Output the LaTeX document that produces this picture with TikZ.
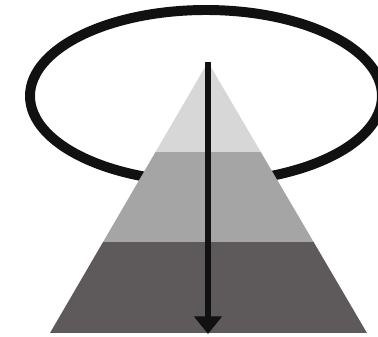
\documentclass[tikz,border=0pt]{standalone}
\usetikzlibrary{arrows.meta, calc}
\definecolor{pTop}{HTML}{D7D7D7}
\definecolor{pMid}{HTML}{A5A5A5}
\definecolor{pLow}{HTML}{5E5A5B}
\definecolor{pInk}{HTML}{111111}
\begin{document}
\begin{tikzpicture}[x=0.03cm, y=-0.03cm,
      ring/.style={draw=pInk, line width=8.5pt},
      layer/.style={draw=none},
      axis/.style={draw=pInk, line width=5.6pt, -{Triangle[length=15pt, width=23pt]}}]
    \useasboundingbox (0,0) rectangle (378,337);
    \clip (0,0) rectangle (378,337);
    % ring behind the pyramid
    \draw[ring] (206,96) ellipse [x radius=176, y radius=86];
    \coordinate (apex) at (208,62);
    \coordinate (baseL) at (50,333);
    \coordinate (baseR) at (367,333);
    \coordinate (bottom) at (208,334);
    \coordinate (aL) at ($(apex)!0.332!(baseL)$);
    \coordinate (aR) at ($(apex)!0.332!(baseR)$);
    \coordinate (bL) at ($(apex)!0.664!(baseL)$);
    \coordinate (bR) at ($(apex)!0.664!(baseR)$);
    \fill[layer, pLow] (bL) -- (bR) -- (baseR) -- (baseL) -- cycle;
    \fill[layer, pMid] (aL) -- (aR) -- (bR) -- (bL) -- cycle;
    \fill[layer, pTop] (apex) -- (aR) -- (aL) -- cycle;
    \draw[axis] (apex) -- (bottom);
  \end{tikzpicture}
\end{document}
